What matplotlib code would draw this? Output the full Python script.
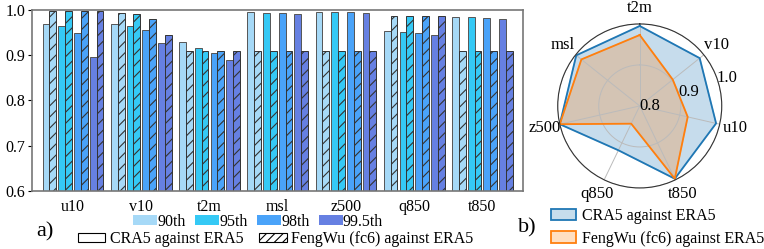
import numpy as np
import matplotlib
matplotlib.use("Agg")
import matplotlib.pyplot as plt
from matplotlib.patches import Patch

plt.rcParams["font.family"] = ["Liberation Serif", "DejaVu Serif"]
plt.rcParams["hatch.linewidth"] = 0.8

# data
variables = ["u10", "v10", "t2m", "msl", "z500", "q850", "t850"]
pct_labels = ["90th", "95th", "98th", "99.5th"]

cra5 = {
    "90th":   [0.970, 0.970, 0.929, 0.995, 0.995, 0.954, 0.985],
    "95th":   [0.965, 0.965, 0.917, 0.994, 0.995, 0.951, 0.984],
    "98th":   [0.948, 0.955, 0.904, 0.993, 0.995, 0.948, 0.982],
    "99.5th": [0.896, 0.927, 0.889, 0.990, 0.994, 0.944, 0.979],
}
fengwu = {
    "90th":   [0.998, 0.993, 0.909, 0.909, 0.909, 0.987, 0.909],
    "95th":   [0.998, 0.990, 0.909, 0.909, 0.909, 0.987, 0.909],
    "98th":   [0.998, 0.979, 0.909, 0.909, 0.909, 0.987, 0.909],
    "99.5th": [0.998, 0.945, 0.909, 0.909, 0.909, 0.987, 0.909],
}

radar_vars = ["t2m", "v10", "u10", "t850", "q850", "z500", "msl"]
radar_cra5 = [0.995, 0.987, 0.991, 0.997, 0.920, 1.000, 0.998]
radar_fengwu = [0.973, 0.903, 0.920, 0.997, 0.848, 1.000, 0.982]
radar_ticks = [0.8, 0.9, 1.0]

colors = ["#a6d9f7", "#35c9f5", "#4aa3f9", "#6680e2"]

fig = plt.figure(figsize=(7.64, 2.49), dpi=100)

# ---- a) bar chart
ax = fig.add_axes([0.042, 0.233, 0.643, 0.727])
x = np.arange(len(variables))
w = 0.1
step = 0.23
for i, p in enumerate(pct_labels):
    xc = x - 1.5 * step + i * step
    ax.bar(xc - w / 2, np.array(cra5[p]) - 0.6, w, bottom=0.6,
           color=colors[i], edgecolor="#555555", linewidth=0.7)
    ax.bar(xc + w / 2, np.array(fengwu[p]) - 0.6, w, bottom=0.6,
           color=colors[i], edgecolor="#333333", linewidth=0.7, hatch="///")

ax.set_xlim(-0.6, 6.6)
ax.set_ylim(0.6, 1.0)
ax.set_yticks([0.6, 0.7, 0.8, 0.9, 1.0])
ax.set_xticks(x)
ax.set_xticklabels(variables)
ax.tick_params(labelsize=11.5, length=0, pad=6)
ax.tick_params(axis="y", length=3, pad=2)
for s in ax.spines.values():
    s.set_color("#777777")
    s.set_linewidth(1.2)

h1 = [Patch(facecolor=c, edgecolor="none") for c in colors]
fig.legend(h1, pct_labels, loc="center", bbox_to_anchor=(0.338, 0.110), ncol=4,
           frameon=False, fontsize=11.5, handlelength=1.5, handleheight=0.65,
           handletextpad=0.0, columnspacing=0.6, borderpad=0)
h2 = [Patch(facecolor="white", edgecolor="black", linewidth=0.8),
      Patch(facecolor="white", edgecolor="black", linewidth=0.8, hatch="////")]
fig.legend(h2, ["CRA5 against ERA5", "FengWu (fc6) against ERA5"], loc="center",
           bbox_to_anchor=(0.361, 0.039), ncol=2, frameon=False, fontsize=11.5,
           handlelength=1.7, handleheight=0.5, handletextpad=0.3,
           columnspacing=1.0, borderpad=0)
fig.text(0.059, 0.068, "a)", fontsize=16, ha="center", va="center")

# ---- b) radar
rax = fig.add_axes([0.730, 0.245, 0.2147, 0.659], polar=True)
rax.set_theta_offset(np.pi / 2)
rax.set_theta_direction(-1)
ang = np.linspace(0, 2 * np.pi, len(radar_vars), endpoint=False)
ang_c = np.append(ang, ang[0])
c5 = np.append(radar_cra5, radar_cra5[0])
fw = np.append(radar_fengwu, radar_fengwu[0])
rax.plot(ang_c, c5, color="#1f77b4", linewidth=1.3)
rax.fill(ang_c, c5, color="#1f77b4", alpha=0.25)
rax.plot(ang_c, fw, color="#ff7f0e", linewidth=1.3)
rax.fill(ang_c, fw, color="#ff7f0e", alpha=0.25)
rax.set_ylim(0.8, 1.0)
rax.set_yticks(radar_ticks)
rax.set_yticklabels([])
for r in radar_ticks:
    rax.text(np.deg2rad(70), r, "%.1f" % r, fontsize=12, ha="left", va="center")
rax.set_xticks(ang)
rax.set_xticklabels(radar_vars, fontsize=12)
rax.tick_params(axis="x", pad=1)
rax.grid(color="#bbbbbb", linewidth=0.7)
rax.spines["polar"].set_color("#333333")
rax.spines["polar"].set_linewidth(0.8)

h3 = [Patch(facecolor=(0.12, 0.47, 0.71, 0.25), edgecolor="#1f77b4", linewidth=1.3),
      Patch(facecolor=(1.0, 0.5, 0.05, 0.25), edgecolor="#ff7f0e", linewidth=1.3)]
fig.legend(h3, ["CRA5 against ERA5", "FengWu (fc6) against ERA5"], loc="center left",
           bbox_to_anchor=(0.711, 0.087), ncol=1, frameon=False, fontsize=11.5,
           handlelength=1.55, handleheight=0.75, handletextpad=0.4, labelspacing=0.4,
           borderpad=0)
fig.text(0.690, 0.084, "b)", fontsize=16, ha="center", va="center")

fig.savefig("out.png", dpi=100)
